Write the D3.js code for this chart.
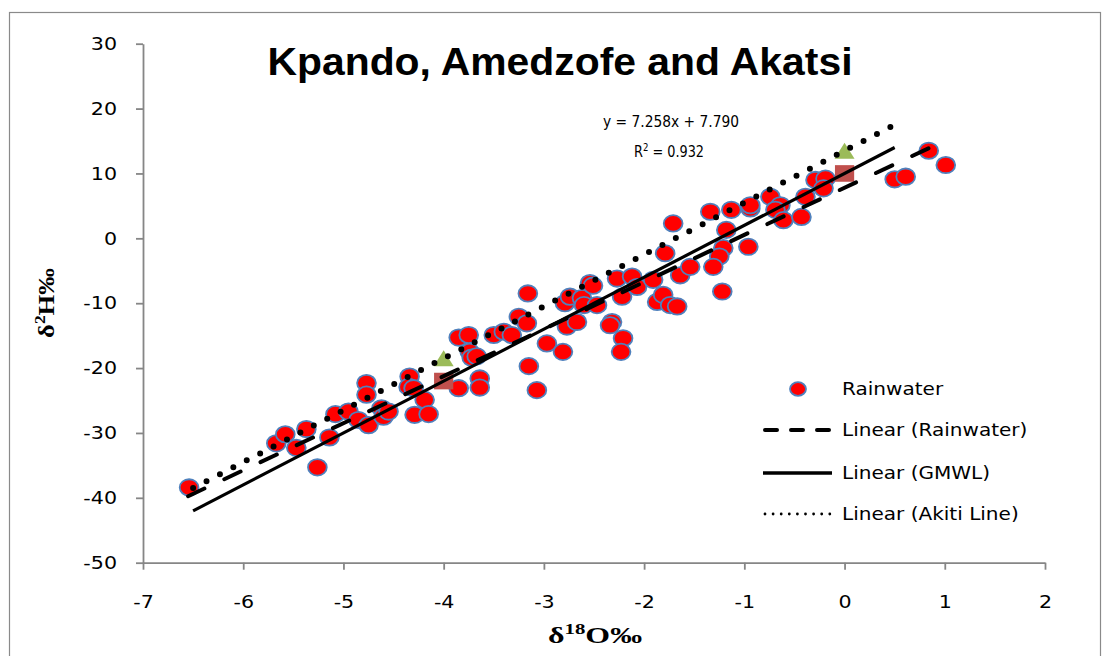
<!DOCTYPE html>
<html>
<head>
<meta charset="utf-8">
<script src="https://cdn.jsdelivr.net/npm/d3@7"></script>
<style>
  html, body { margin: 0; padding: 0; background: #fff; }
  svg { display: block; }
</style>
</head>
<body>
<svg id="chart" width="1103" height="656"></svg>
<script>
// Rainwater samples: δ18O (‰) and δ2H (‰)
const rainO18 = [
  -6.54, -5.67, -5.58, -5.47, -5.37, -5.26, -5.14, -5.08,
  -4.95, -4.77, -4.77, -4.85, -4.75, -4.62, -4.60, -4.55,
  -4.34, -4.35, -4.30, -4.19, -4.29, -4.15, -3.85, -3.64,
  -3.64, -3.85, -3.75, -3.74, -3.72, -3.67, -3.50, -3.40,
  -3.32, -3.25, -3.16, -3.17, -3.15, -3.07, -2.97, -2.81,
  -2.77, -2.67, -2.79, -2.74, -2.62, -2.60, -2.54, -2.51,
  -2.47, -2.32, -2.34, -2.21, -2.23, -2.27, -2.22, -2.12,
  -2.07, -1.91, -1.87, -1.81, -1.74, -1.67, -1.79, -1.71,
  -1.64, -1.54, -1.34, -1.13, -0.94, -0.94, -0.74, -0.64,
  -0.69, -0.61, -0.43, -0.39, -0.29, -0.19, -0.21, -1.18,
  -1.21, -1.25, -1.31, -0.96, -1.22, 0.84, 1.01, 0.50, 0.61
];
const rainH2 = [
  -38.4, -31.6, -30.2, -32.3, -29.4, -35.3, -30.7, -27.1,
  -26.7, -22.3, -24.1, -28.0, -28.8, -26.2, -27.5, -26.7,
  -21.3, -22.9, -23.1, -24.9, -27.2, -27.1, -23.1, -21.6,
  -23.0, -15.3, -14.9, -17.5, -18.4, -18.2, -14.9, -14.4,
  -14.9, -12.1, -8.5, -13.1, -19.7, -23.4, -16.2, -17.5,
  -13.6, -12.9, -10.0, -9.0, -9.2, -10.3, -6.9, -7.3,
  -10.3, -12.9, -13.4, -15.4, -17.5, -6.2, -9.0, -5.9,
  -7.5, -6.4, -9.8, -8.7, -10.3, -10.5, -2.3, 2.3,
  -5.7, -4.4, 4.1, 4.4, 4.6, 5.1, 6.4, 5.1,
  4.4, 2.8, 3.3, 6.4, 9.0, 9.2, 7.7, 1.3,
  -1.5, -2.8, -4.4, -1.3, -8.2, 13.5, 11.3, 9.1, 9.5
];

// Reference lines: GMWL and Akiti line, each defined by two points
const gmwlO18 = [-4, 0];
const gmwlH2 = [-22, 10];
const akitiO18 = [-4, 0];
const akitiH2 = [-18.5, 13.5];

// Rainwater regression (as printed on the chart)
const rainSlope = 7.258;
const rainIntercept = 7.790;
const rainR2 = 0.932;
const rainFitRange = [-6.55, 0.87];
const refLineRange = [-6.5, 0.5];

// Axis ticks
const xTicks = [-7, -6, -5, -4, -3, -2, -1, 0, 1, 2];
const yTicks = [30, 20, 10, 0, -10, -20, -30, -40, -50];

const legendLabels = ["Rainwater", "Linear (Rainwater)", "Linear (GMWL)", "Linear (Akiti Line)"];

const svg = d3.select("#chart");
const W = 1103, H = 656;
const STRETCH = 1.145;
const SANS = "'DejaVu Sans', Verdana, sans-serif";
const SERIF = "'Liberation Serif', 'Times New Roman', serif";

// widen text horizontally to the chart's letter proportions
function widen(sel, k) {
  sel.each(function () {
    const len = this.getComputedTextLength();
    d3.select(this).attr("textLength", len * (k || STRETCH)).attr("lengthAdjust", "spacingAndGlyphs");
  });
}

svg.append("rect").attr("x", 0).attr("y", 0).attr("width", W).attr("height", H).attr("fill", "#fff");
// chart frame
svg.append("rect").attr("x", 9.5).attr("y", 12.5).attr("width", 1091).attr("height", 700)
  .attr("fill", "none").attr("stroke", "#8a8a8a").attr("stroke-width", 1.2);

const x = d3.scaleLinear().domain([-7, 2]).range([143, 1045]);
const y = d3.scaleLinear().domain([-50, 30]).range([562.7, 43.7]);

// axes
const axisColor = "#868686";
const gx = svg.append("g").attr("transform", `translate(0,${y(-50)})`)
  .call(d3.axisBottom(x).tickValues(xTicks).tickFormat(d3.format("d")).tickSizeInner(7).tickSizeOuter(0).tickPadding(26));
const gy = svg.append("g").attr("transform", `translate(${x(-7)},0)`)
  .call(d3.axisLeft(y).tickValues(yTicks).tickFormat(d3.format("d")).tickSizeInner(7).tickSizeOuter(0).tickPadding(19));
[gx, gy].forEach(g => {
  g.select(".domain").attr("stroke", axisColor).attr("stroke-width", 1.8);
  g.selectAll(".tick line").attr("stroke", axisColor).attr("stroke-width", 1.8);
  g.selectAll(".tick text").attr("fill", "#000").style("font-family", SANS).style("font-size", "18px")
    .text(d => d < 0 ? "-" + Math.abs(d) : String(d));
  widen(g.selectAll(".tick text"));
});

const plot = svg.append("g");

// rainwater samples
const pts = rainO18.map((v, i) => [v, rainH2[i]]);
plot.append("g").selectAll("ellipse").data(pts).join("ellipse")
  .attr("cx", d => x(d[0])).attr("cy", d => y(d[1]))
  .attr("rx", 9.4).attr("ry", 8.2)
  .attr("fill", "#ff0000").attr("stroke", "#4f81bd").attr("stroke-width", 1.8);

// GMWL points (squares)
plot.append("g").selectAll("rect").data(gmwlO18.map((v, i) => [v, gmwlH2[i]])).join("rect")
  .attr("x", d => x(d[0]) - 9.6).attr("y", d => y(d[1]) - 8.3)
  .attr("width", 19.2).attr("height", 16.6).attr("fill", "#c0504d");

// Akiti points (triangles)
plot.append("g").selectAll("path").data(akitiO18.map((v, i) => [v, akitiH2[i]])).join("path")
  .attr("d", d => {
    const cx = x(d[0]), cy = y(d[1]);
    return `M${cx - 10},${cy + 8}L${cx + 10},${cy + 8}L${cx},${cy - 8}Z`;
  })
  .attr("fill", "#9bbb59");

// straight line through two points, extended over a range
function fitTwo(xs, ys) {
  const m = (ys[1] - ys[0]) / (xs[1] - xs[0]);
  return { m, b: ys[0] - m * xs[0] };
}
const gm = fitTwo(gmwlO18, gmwlH2);
const ak = fitTwo(akitiO18, akitiH2);

function drawLine(m, b, range) {
  return plot.append("line")
    .attr("x1", x(range[0])).attr("y1", y(m * range[0] + b))
    .attr("x2", x(range[1])).attr("y2", y(m * range[1] + b))
    .attr("stroke", "#000").attr("fill", "none");
}
drawLine(rainSlope, rainIntercept, rainFitRange)
  .attr("stroke-width", 4).attr("stroke-dasharray", "18,22").attr("stroke-linecap", "round");
drawLine(gm.m, gm.b, refLineRange).attr("stroke-width", 3.2);
drawLine(ak.m, ak.b, refLineRange)
  .attr("stroke-width", 6).attr("stroke-dasharray", "0,15.1").attr("stroke-linecap", "round");

// title
svg.append("text").attr("x", 560).attr("y", 75).attr("text-anchor", "middle")
  .style("font-family", "'Liberation Sans', Arial, sans-serif")
  .style("font-weight", "bold").style("font-size", "38px")
  .attr("textLength", 585).attr("lengthAdjust", "spacingAndGlyphs")
  .text("Kpando, Amedzofe and Akatsi");

// regression equation
const eq = svg.append("g").style("font-family", SANS).style("font-size", "15px");
eq.append("text").attr("x", 671).attr("y", 127).attr("text-anchor", "middle")
  .attr("textLength", 136).attr("lengthAdjust", "spacingAndGlyphs")
  .text(`y = ${rainSlope.toFixed(3)}x + ${rainIntercept.toFixed(3)}`);
const r2 = eq.append("text").attr("x", 669).attr("y", 157).attr("text-anchor", "middle")
  .attr("textLength", 70).attr("lengthAdjust", "spacingAndGlyphs");
r2.append("tspan").text("R");
r2.append("tspan").attr("dy", -6).style("font-size", "10px").text("2");
r2.append("tspan").attr("dy", 6).text(` = ${rainR2.toFixed(3)}`);

// axis titles
const xt = svg.append("text").attr("x", 595).attr("y", 643).attr("text-anchor", "middle")
  .style("font-family", SERIF).style("font-weight", "bold").style("font-size", "23px");
xt.append("tspan").text("δ");
xt.append("tspan").attr("dy", -9).style("font-size", "15px").text("18");
xt.append("tspan").attr("dy", 9).text("O‰");
xt.attr("textLength", 94).attr("lengthAdjust", "spacingAndGlyphs");

const yt = svg.append("text").attr("transform", "translate(54,303) rotate(-90)").attr("text-anchor", "middle")
  .style("font-family", SERIF).style("font-weight", "bold").style("font-size", "23px");
yt.append("tspan").text("δ");
yt.append("tspan").attr("dy", -9).style("font-size", "15px").text("2");
yt.append("tspan").attr("dy", 9).text("H‰");
yt.attr("textLength", 70).attr("lengthAdjust", "spacingAndGlyphs");

// legend
const lg = svg.append("g");
const rowY = [389, 430, 473, 514];
const sx0 = 763, sx1 = 832, tx = 842;
lg.append("ellipse").attr("cx", 798).attr("cy", rowY[0]).attr("rx", 8).attr("ry", 6.8)
  .attr("fill", "#ff0000").attr("stroke", "#4f81bd").attr("stroke-width", 1.8);
lg.append("line").attr("x1", sx0 + 2).attr("x2", sx1 - 2).attr("y1", rowY[1]).attr("y2", rowY[1])
  .attr("stroke", "#000").attr("stroke-width", 4).attr("stroke-dasharray", "12,14").attr("stroke-linecap", "round");
lg.append("line").attr("x1", sx0).attr("x2", sx1).attr("y1", rowY[2]).attr("y2", rowY[2])
  .attr("stroke", "#000").attr("stroke-width", 3.3);
lg.append("line").attr("x1", sx0 + 2).attr("x2", sx1 - 2).attr("y1", rowY[3]).attr("y2", rowY[3])
  .attr("stroke", "#000").attr("stroke-width", 2.8).attr("stroke-dasharray", "0,8.1").attr("stroke-linecap", "round");
lg.selectAll("text").data(legendLabels).join("text")
  .attr("x", tx).attr("y", (d, i) => rowY[i]).attr("dy", "0.36em")
  .style("font-family", SANS).style("font-size", "17.5px").attr("fill", "#000")
  .text(d => d);
widen(lg.selectAll("text"));
</script>
</body>
</html>
